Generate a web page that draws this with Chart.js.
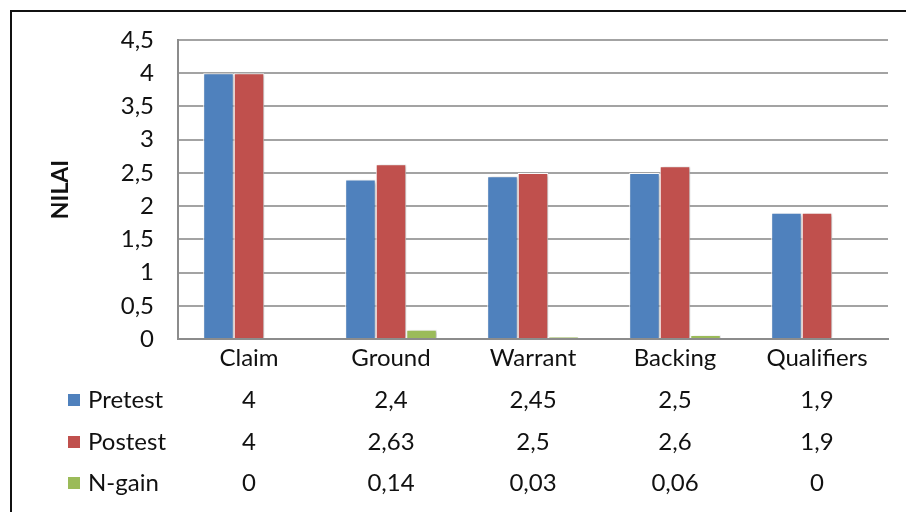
<!DOCTYPE html>
<html>
<head>
<meta charset="utf-8">
<script src="https://cdn.jsdelivr.net/npm/chart.js@4/dist/chart.umd.min.js"></script>
<style>
  html, body { margin: 0; padding: 0; background: #fff; }
  #wrap { position: relative; width: 906px; height: 512px; overflow: hidden; }
  #frame { position: absolute; left: 10px; top: 10px; width: 910px; height: 520px;
           border-left: 2px solid #111; border-top: 2px solid #111; box-sizing: border-box; }
  canvas { position: absolute; left: 0; top: 0; }
</style>
</head>
<body>
<div id="wrap">
  <div id="frame"></div>
  <canvas id="c" width="906" height="512"></canvas>
</div>
<script>
// Categories and series
const categories = ['Claim', 'Ground', 'Warrant', 'Backing', 'Qualifiers'];
const pretest  = [4, 2.4, 2.45, 2.5, 1.9];
const postest  = [4, 2.63, 2.5, 2.6, 1.9];
const ngain    = [0, 0.14, 0.03, 0.06, 0];
const seriesNames = ['Pretest', 'Postest', 'N-gain'];
const yTicks = [0, 0.5, 1, 1.5, 2, 2.5, 3, 3.5, 4, 4.5];

const colors = ['#4F81BD', '#C0504D', '#9BBB59'];
const FONT = 'Lato, "Open Sans", sans-serif';
const comma = v => String(v).replace('.', ',');

Chart.defaults.font.family = FONT;
Chart.defaults.font.size = 24;
Chart.defaults.color = '#111';

// Soft drop shadow on the bars
const barShadow = {
  id: 'barShadow',
  beforeDatasetsDraw(chart) {
    const ctx = chart.ctx;
    ctx.save();
    ctx.shadowColor = 'rgba(0,0,0,0.28)';
    ctx.shadowBlur = 3;
    ctx.shadowOffsetX = 2;
    ctx.shadowOffsetY = 1;
  },
  afterDatasetsDraw(chart) {
    chart.ctx.restore();
  }
};

// Data table under the category labels
const dataTable = {
  id: 'dataTable',
  afterDraw(chart) {
    const ctx = chart.ctx;
    const x = chart.scales.x;
    const rows = [pretest, postest, ngain];
    const rowY = [400, 442, 483];
    ctx.save();
    ctx.font = '24px ' + FONT;
    ctx.textBaseline = 'middle';
    rows.forEach((vals, r) => {
      const y = rowY[r];
      ctx.fillStyle = colors[r];
      ctx.fillRect(68, y - 6, 12, 12);
      ctx.fillStyle = '#111';
      ctx.textAlign = 'left';
      ctx.fillText(seriesNames[r], 88, y);
      ctx.textAlign = 'center';
      vals.forEach((v, i) => ctx.fillText(comma(v), x.getPixelForValue(i), y));
    });
    ctx.restore();
  }
};

new Chart(document.getElementById('c'), {
  type: 'bar',
  data: {
    labels: categories,
    datasets: [pretest, postest, ngain].map((d, i) => ({
      label: seriesNames[i],
      data: d,
      backgroundColor: colors[i],
      borderColor: '#ffffff',
      borderWidth: 1,
      categoryPercentage: 0.645,
      barPercentage: 1.0
    }))
  },
  options: {
    responsive: false,
    animation: false,
    events: [],
    layout: { padding: { left: 0, top: 40, right: 18, bottom: 0 } },
    plugins: { legend: { display: false }, tooltip: { enabled: false } },
    scales: {
      x: {
        grid: { display: false, drawTicks: false, tickLength: 0 },
        border: { color: '#8c8c8c', width: 2 },
        ticks: { padding: 5, color: '#111' },
        afterFit(s) { s.height = 173; }
      },
      y: {
        min: 0, max: 4.5,
        afterBuildTicks(s) { s.ticks = yTicks.map(v => ({ value: v })); },
        grid: { color: '#a3a3a3', lineWidth: 2, drawTicks: false, tickLength: 0 },
        border: { color: '#8c8c8c', width: 2 },
        ticks: { padding: 24, color: '#111', callback: v => comma(v) },
        title: {
          display: true, text: 'NILAI',
          font: { weight: 'bold', size: 23 },
          color: '#111',
          padding: { top: 47, bottom: 0 }
        },
        afterFit(s) { s.width = 178; }
      }
    }
  },
  plugins: [barShadow, dataTable]
});
</script>
</body>
</html>
